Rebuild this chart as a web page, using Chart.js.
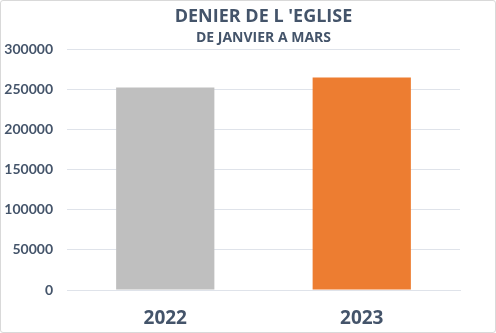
<!DOCTYPE html>
<html><head><meta charset="utf-8">
<script src="https://cdn.jsdelivr.net/npm/chart.js@4/dist/chart.umd.min.js"></script>
<style>
html,body{margin:0;padding:0;background:#fff;}
#wrap{position:absolute;left:0;top:0;width:496px;height:333px;box-sizing:border-box;border:1px solid #d9d9d9;border-radius:3px;}
canvas{display:block;}
</style></head><body>
<div id="wrap"><canvas id="c" width="494" height="331"></canvas></div>
<script>
const categories = ["2022", "2023"];
const values = [252500, 265000];
const barColors = ["#bfbfbf", "#ed7d31"];
const titleText = "DENIER DE L 'EGLISE";
const subtitleText = "DE JANVIER A MARS";
const yMin = 0, yMax = 300000, yStep = 50000;

const textColor = "#44546a";
const gridColor = "#dfe3ea";
const fam = "Lato, 'Open Sans', sans-serif";
const famT = "'Open Sans', sans-serif";

new Chart(document.getElementById('c'), {
  type: 'bar',
  data: {
    labels: categories,
    datasets: [{ data: values, backgroundColor: barColors, barPercentage: 0.5, categoryPercentage: 1.0 }]
  },
  options: {
    responsive: false,
    animation: false,
    layout: { padding: { left: 2, right: 35, top: 3, bottom: 0 } },
    plugins: {
      legend: { display: false },
      tooltip: { enabled: false },
      title: { display: true, text: titleText, color: textColor, fullSize: false,
        font: { family: famT, size: 18, weight: 'bold' }, padding: { top: 2, bottom: 1 } },
      subtitle: { display: true, text: subtitleText, color: textColor, fullSize: false,
        font: { family: famT, size: 14, weight: 'bold' }, padding: { top: 1, bottom: 3 } }
    },
    scales: {
      x: {
        grid: { display: false, drawTicks: false },
        border: { display: true, color: gridColor, width: 1 },
        ticks: { color: textColor, font: { family: famT, size: 19, weight: 'bold', lineHeight: 1 }, padding: 19 },
        afterFit: s => { s.height = 42; }
      },
      y: {
        min: yMin, max: yMax,
        grid: { color: gridColor, drawTicks: false },
        border: { display: false },
        ticks: { stepSize: yStep, color: textColor, font: { family: fam, size: 14, weight: 'bold' }, padding: 14,
          callback: v => String(v) },
        afterFit: s => { s.width = 64; }
      }
    }
  }
});
</script>
</body></html>
